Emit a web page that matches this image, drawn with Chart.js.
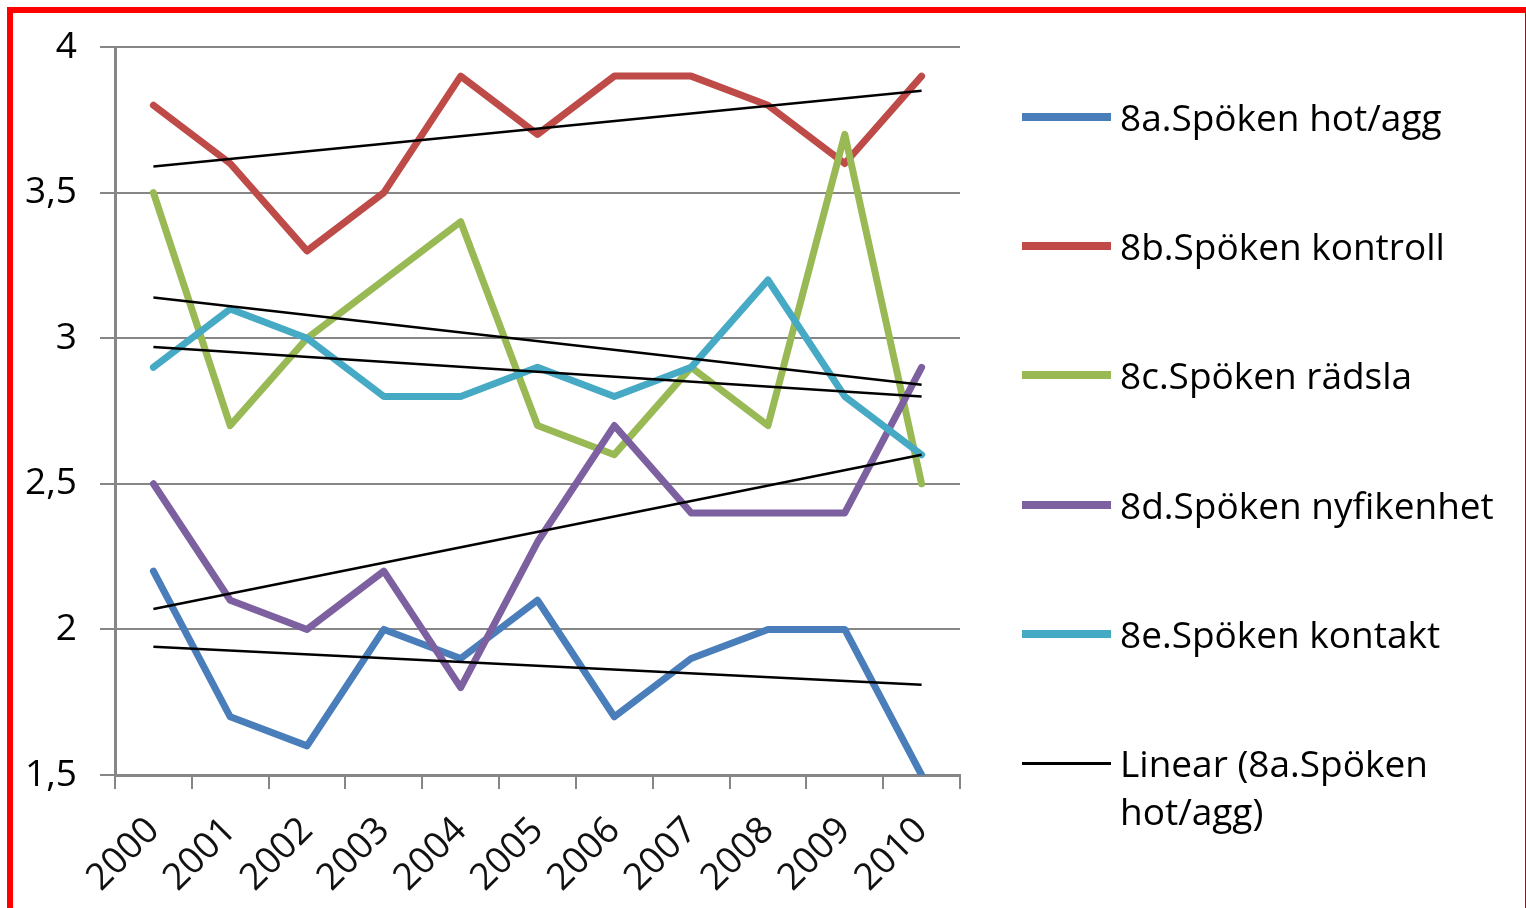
<!DOCTYPE html>
<html>
<head>
<meta charset="utf-8">
<script src="https://cdn.jsdelivr.net/npm/chart.js@4.4.1/dist/chart.umd.min.js"></script>
<style>
  html, body { margin: 0; padding: 0; background: #fff; overflow: hidden; }
  #wrap { position: relative; width: 1526px; height: 908px; }
  #frame {
    position: absolute; left: 7px; top: 7px; width: 1519px; height: 930px;
    box-sizing: border-box; border-top: 6px solid #ff0000; border-left: 6px solid #ff0000;
    border-right: 1px solid #d00000; pointer-events: none;
  }
  #legend { position: absolute; left: 1022px; top: 0; font-family: "Open Sans", sans-serif; font-size: 37px; color: #000; }
  .item { position: absolute; left: 0; display: flex; align-items: flex-start; white-space: nowrap; }
  .swatch { width: 89px; margin-top: 20px; margin-right: 9px; }
  .label { line-height: 48px; width: 395px; white-space: normal; }
</style>
</head>
<body>
<div id="wrap">
  <canvas id="chart" width="1526" height="908"></canvas>
  <div id="legend"></div>
  <div id="frame"></div>
</div>
<script>
// Values
const years = ['2000', '2001', '2002', '2003', '2004', '2005', '2006', '2007', '2008', '2009', '2010'];
const yTickLabels = ['1,5', '2', '2,5', '3', '3,5', '4'];

const hotAgg     = [2.2, 1.7, 1.6, 2.0, 1.9, 2.1, 1.7, 1.9, 2.0, 2.0, 1.5];
const kontroll   = [3.8, 3.6, 3.3, 3.5, 3.9, 3.7, 3.9, 3.9, 3.8, 3.6, 3.9];
const radsla     = [3.5, 2.7, 3.0, 3.2, 3.4, 2.7, 2.6, 2.9, 2.7, 3.7, 2.5];
const nyfikenhet = [2.5, 2.1, 2.0, 2.2, 1.8, 2.3, 2.7, 2.4, 2.4, 2.4, 2.9];
const kontakt    = [2.9, 3.1, 3.0, 2.8, 2.8, 2.9, 2.8, 2.9, 3.2, 2.8, 2.6];

// linear trend lines: value at 2000 and at 2010
const trendHotAgg     = [1.94, 1.81];
const trendKontroll   = [3.59, 3.85];
const trendRadsla     = [3.14, 2.84];
const trendNyfikenhet = [2.07, 2.60];
const trendKontakt    = [2.97, 2.80];

const series = [
    { label: '8a.Spöken hot/agg',    data: hotAgg,     color: '#4A7EBB' },
    { label: '8b.Spöken kontroll',   data: kontroll,   color: '#BE4B48' },
    { label: '8c.Spöken rädsla',     data: radsla,     color: '#98B954' },
    { label: '8d.Spöken nyfikenhet', data: nyfikenhet, color: '#7D60A0' },
    { label: '8e.Spöken kontakt',    data: kontakt,    color: '#46AAC5' }
];
const trends = [trendHotAgg, trendKontroll, trendRadsla, trendNyfikenhet, trendKontakt];

// only the ends are known, the line spans the gap between them
const trendData = (t) => years.map((y, i) => i === 0 ? t[0] : (i === years.length - 1 ? t[1] : null));

const datasets = [];
series.forEach((s, i) => {
    datasets.push({
        label: s.label,
        data: s.data,
        borderColor: s.color,
        backgroundColor: s.color,
        borderWidth: 7,
        borderJoinStyle: 'round',
        borderCapStyle: 'round',
        pointRadius: 0,
        tension: 0,
        order: 10 - i, // later series on top, like Excel
        inLegend: true
    });
});
trends.forEach((t, i) => {
    datasets.push({
        label: 'Linear (' + series[i].label + ')',
        data: trendData(t),
        borderColor: '#000',
        borderWidth: 2.5,
        pointRadius: 0,
        spanGaps: true,
        order: 0,
        inLegend: i === 0
    });
});

const gridGrey = '#868686';
const tickFont = { family: '"Open Sans", sans-serif', size: 37 };

const chart = new Chart(document.getElementById('chart'), {
    type: 'line',
    data: { labels: years, datasets: datasets },
    options: {
        responsive: false,
        animation: false,
        layout: { padding: { top: 47, right: 566, left: 0, bottom: 0 } },
        plugins: { legend: { display: false }, tooltip: { enabled: false } },
        scales: {
            x: {
                offset: true,
                grid: { display: true, drawOnChartArea: false, drawTicks: true, tickLength: 14, color: gridGrey, lineWidth: 2, offset: true },
                border: { display: true, color: gridGrey, width: 3 },
                ticks: { font: tickFont, color: '#111', minRotation: 45, maxRotation: 45, padding: 20, autoSkip: false },
                afterFit: (scale) => { scale.height = 133; }
            },
            y: {
                min: 1.5,
                max: 4,
                grid: { color: gridGrey, lineWidth: 2, tickLength: 15 },
                border: { display: true, color: gridGrey, width: 3 },
                ticks: {
                    stepSize: 0.5,
                    font: tickFont,
                    color: '#000',
                    padding: 23,
                    callback: (v, i) => yTickLabels[i]
                },
                afterFit: (scale) => { scale.width = 115; }
            }
        }
    }
});

// HTML legend built from the chart datasets
const legendEl = document.getElementById('legend');
const legendTop = 117, legendStep = 129.2;
chart.data.datasets.filter(d => d.inLegend).forEach((d, i) => {
    const item = document.createElement('div');
    item.className = 'item';
    item.style.top = (legendTop + i * legendStep - 24) + 'px';
    const sw = document.createElement('div');
    sw.className = 'swatch';
    const h = d.borderWidth > 5 ? 8 : 3;
    sw.style.height = h + 'px';
    sw.style.marginTop = (24 - h / 2) + 'px';
    sw.style.background = d.borderColor;
    const lb = document.createElement('div');
    lb.className = 'label';
    lb.textContent = d.label;
    item.appendChild(sw);
    item.appendChild(lb);
    legendEl.appendChild(item);
});
</script>
</body>
</html>
